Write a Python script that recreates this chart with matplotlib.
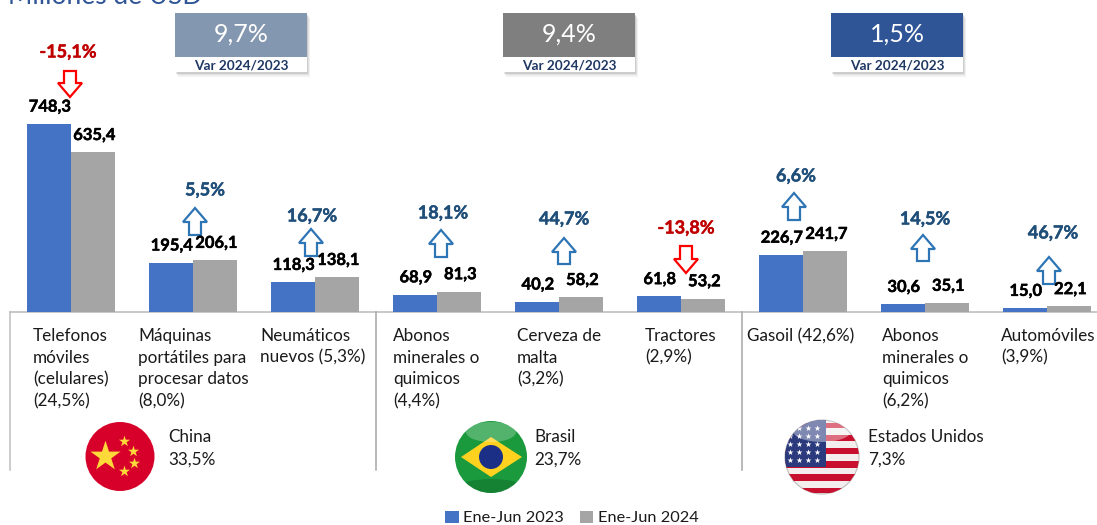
import matplotlib
matplotlib.use('Agg')
import matplotlib.pyplot as plt
import matplotlib.patheffects as pe
from matplotlib.patches import Rectangle, Circle, Ellipse, Polygon
import numpy as np

plt.rcParams['font.family'] = ['Lato', 'DejaVu Sans']

categories = ['Telefonos\nmóviles\n(celulares)\n(24,5%)', 'Máquinas\nportátiles para\nprocesar datos\n(8,0%)',
			  'Neumáticos\nnuevos (5,3%)', 'Abonos\nminerales o\nquimicos\n(4,4%)', 'Cerveza de\nmalta\n(3,2%)',
			  'Tractores\n(2,9%)', 'Gasoil (42,6%)', 'Abonos\nminerales o\nquimicos\n(6,2%)', 'Automóviles\n(3,9%)']
values_2023 = [748.3, 195.4, 118.3, 68.9, 40.2, 61.8, 226.7, 30.6, 15.0]
values_2024 = [635.4, 206.1, 138.1, 81.3, 58.2, 53.2, 241.7, 35.1, 22.1]
changes = ['-15,1%', '5,5%', '16,7%', '18,1%', '44,7%', '-13,8%', '6,6%', '14,5%', '46,7%']
countries = ['China\n33,5%', 'Brasil\n23,7%', 'Estados Unidos\n7,3%']
country_changes = ['9,7%', '9,4%', '1,5%']
legend_labels = ['Ene-Jun 2023', 'Ene-Jun 2024']

W, H = 1097, 525
BLUE = '#4472C4'
GRAY = '#A5A5A5'
NAVY = '#1F3864'
heavy = [pe.withStroke(linewidth=0.35, foreground='black')]

fig = plt.figure(figsize=(W / 100, H / 100), dpi=100)

# axes in pixels for everything around the bars
px = fig.add_axes([0, 0, 1, 1])
px.set_xlim(0, W)
px.set_ylim(H, 0)
px.axis('off')

# bars, baseline at y=312, categories 122 px apart
ax = fig.add_axes([0, 0, 1, 1], facecolor='none')
scale = 0.2512
ax.set_xlim(-71 / 122, (W - 71) / 122)
ax.set_ylim((312 - H) / scale, 312 / scale)
ax.axis('off')

x = np.arange(len(categories))
b1 = ax.bar(x - 0.18, values_2023, 0.36, color=BLUE, label=legend_labels[0])
b2 = ax.bar(x + 0.18, values_2024, 0.36, color=GRAY, label=legend_labels[1])

for bars, vals, dx in [(b1, values_2023, 0.5), (b2, values_2024, 1)]:
	for r, v in zip(bars, vals):
		ax.annotate('{:.1f}'.format(v).replace('.', ','), xy=(r.get_x() + r.get_width() / 2, v),
					xytext=(dx, 12.5), textcoords='offset points', ha='center', va='center',
					fontsize=11.9, fontweight='bold', color='black', path_effects=heavy)

# axis frame
line = '#BFBFBF'
px.plot([10, W], [312, 312], color=line, lw=1.2)
for lx in [10, 376, 742]:
	px.plot([lx, lx], [312, 470], color=line if lx == 10 else '#A6A6A6', lw=1.1)

cat_x = [33, 138, 260, 393, 517, 645, 747, 882, 1001]
for cx, c in zip(cat_x, categories):
	px.text(cx, 328, c, fontsize=12.3, color='#1a1a1a', ha='left', va='top', linespacing=1.44)


def arrow(cx, top, bottom, up, color):
	# block arrow outline, white inside
	hw, sw, head = 12, 6, 14
	if up:
		pts = [(cx, top), (cx + hw, top + head), (cx + sw, top + head), (cx + sw, bottom),
			   (cx - sw, bottom), (cx - sw, top + head), (cx - hw, top + head)]
	else:
		pts = [(cx, bottom), (cx + hw, bottom - head), (cx + sw, bottom - head), (cx + sw, top),
			   (cx - sw, top), (cx - sw, bottom - head), (cx - hw, bottom - head)]
	px.add_patch(Polygon(pts, closed=True, fc='white', ec=color, lw=1.6, zorder=4))


change_pos = [(68, 52), (205, 190), (312, 216), (443, 213), (564, 219), (686, 228), (796, 176), (925, 219), (1053, 233)]
arrow_pos = [(70, 71, 97), (195, 208, 235), (311, 229, 256), (441, 230, 257), (564, 238, 264),
			 (686, 246, 273), (794, 193, 220), (923, 235, 261), (1049, 257, 284)]
for c, (tx, ty), (ax_x, top, bottom) in zip(changes, change_pos, arrow_pos):
	neg = c.startswith('-')
	col = '#C00000' if neg else '#1F4E79'
	px.text(tx, ty, c, fontsize=13, fontweight='bold', ha='center', va='center', color=col,
			path_effects=[pe.withStroke(linewidth=0.3, foreground=col)])
	arrow(ax_x, top, bottom, not neg, '#FF0000' if neg else '#2E75B6')

# boxes with the variation per country
box_x = [175, 503, 831]
box_col = ['#8497B0', '#7F7F7F', '#2F5597']
for bx, col, t in zip(box_x, box_col, country_changes):
	for off, a in [(5, 0.10), (3, 0.15), (1.5, 0.2)]:
		px.add_patch(Rectangle((bx + off / 2, 13 + off), 132, 59, fc='#7f7f7f', ec='none', alpha=a))
	px.add_patch(Rectangle((bx, 13), 132, 59, fc='white', ec='none'))
	px.add_patch(Rectangle((bx, 13), 132, 44, fc=col, ec='none'))
	px.text(bx + 66, 34, t, color='white', fontsize=18, ha='center', va='center')
	px.text(bx + 66, 65.5, 'Var 2024/2023', color=NAVY, fontsize=9.8, fontweight='bold', ha='center', va='center')

# cut off title
px.text(8, 3.5, 'Millones de USD', color='#2F5597', fontsize=19, ha='left', va='baseline', clip_on=True)

# china flag
clip = Circle((120, 456.5), 34.5, fc='#D7002A', ec='none')
px.add_patch(clip)
px.scatter([104.5], [456], marker='*', s=520, color='#FFD83A', linewidths=0, zorder=3)
px.scatter([124, 133, 134, 124], [441, 451, 463, 471], marker='*', s=70, color='#FFD83A', linewidths=0, zorder=3)

# brasil flag
clip = Circle((491, 457), 36, fc='#1A9A3C', ec='none')
px.add_patch(clip)
px.add_patch(Polygon([(461, 457), (491, 437), (522, 457), (491, 477)], fc='#FFD21F', ec='none', zorder=3))
px.add_patch(Circle((491, 457), 12, fc='#1B2F86', ec='none', zorder=4))
g = Ellipse((491, 432), 50, 20, fc='white', ec='none', alpha=0.25, zorder=5)
px.add_patch(g)
g.set_clip_path(clip)
g2 = Ellipse((491, 487), 62, 16, fc='#0B5E25', ec='none', alpha=0.4, zorder=5)
px.add_patch(g2)
g2.set_clip_path(clip)

# usa flag
clip = Circle((822, 457), 37, fc='#F3EDED', ec='#BDBDBD', lw=0.8, zorder=2)
px.add_patch(clip)
for sy, sh in [(423, 5), (435, 6), (448, 6), (461, 7), (474, 7), (488, 5)]:
	p = Rectangle((780, sy), 90, sh, fc='#C8102E', ec='none', zorder=3)
	px.add_patch(p)
	p.set_clip_path(clip)
p = Rectangle((780, 420), 46, 47, fc='#2A3A7C', ec='none', zorder=4)
px.add_patch(p)
p.set_clip_path(clip)
sx, sy = np.meshgrid(np.arange(790, 826, 9), np.arange(428, 468, 8))
stars = px.scatter(sx.ravel(), sy.ravel(), marker='*', s=20, color='white', linewidths=0, zorder=5)
stars.set_clip_path(clip)
g = Ellipse((822, 431), 58, 22, fc='white', ec='none', alpha=0.4, zorder=6)
px.add_patch(g)
g.set_clip_path(clip)

for (tx, ty), c in zip([(168, 429), (534, 429), (868, 429)], countries):
	px.text(tx, ty, c, fontsize=12.3, color='#1a1a1a', ha='left', va='top', linespacing=1.5)

ax.legend(loc='center', bbox_to_anchor=(572 / W, 1 - 518 / H), ncol=2, frameon=False, fontsize=11.8,
		  handlelength=0.8, handleheight=0.8, handletextpad=0.3, columnspacing=0.95, labelcolor='#1a1a1a',
		  borderpad=0, borderaxespad=0)

fig.savefig('out.png', dpi=100)
